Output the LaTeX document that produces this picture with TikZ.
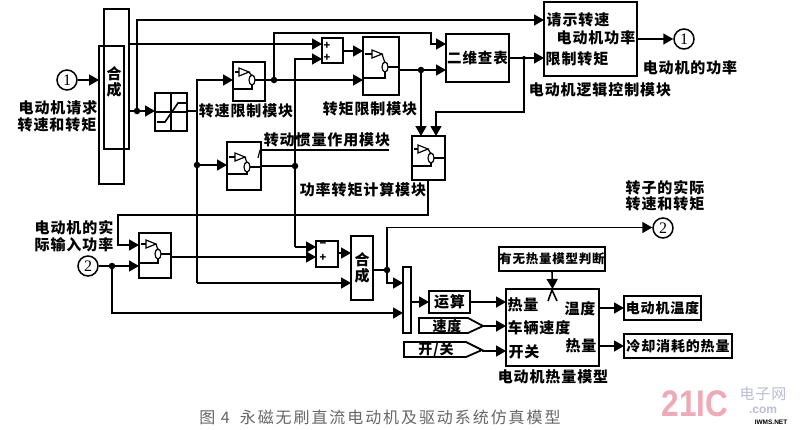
\documentclass[tikz,border=0pt]{standalone}
\usepackage{fontspec}
\setmainfont{Noto Sans CJK SC}[LetterSpace=6]
\newfontfamily\numfont{Liberation Serif}
\newfontfamily\wmfont{Liberation Sans}
\newfontfamily\capfont{Noto Sans CJK SC}[LetterSpace=12]
\usetikzlibrary{arrows.meta}
\definecolor{wmpink}{RGB}{238,170,182}
\definecolor{wmgrey}{RGB}{185,190,215}
\tikzset{
  wire/.style={line width=1.6pt,line join=miter},
  arr/.style={wire,-{Triangle[length=10pt,width=11pt]}},
  box/.style={draw,line width=1.5pt,inner sep=0pt,outer sep=0pt,font=\bfseries\fontsize{15}{17}\selectfont},
  thickbox/.style={box,line width=2.1pt},
  lbl/.style={inner sep=0pt,outer sep=0pt,align=center,font=\bfseries\fontsize{15}{16.5}\selectfont},
  dot/.style={circle,fill=black,inner sep=0pt,minimum size=6.5pt},
  port/.style={circle,draw,line width=1.5pt,inner sep=0pt,minimum size=20pt,font=\numfont\fontsize{16}{16}\selectfont},
  thin glyph/.style={line width=1.2pt},
  plus/.style={inner sep=0pt,font=\bfseries\fontsize{11}{11}\selectfont}
}
\newcommand\bx[7][]{%
  \pgfmathsetmacro\myw{#5-#3}\pgfmathsetmacro\myh{#6-#4}%
  \pgfmathsetmacro\mycx{(#3+#5)/2}\pgfmathsetmacro\mycy{(#4+#6)/2}%
  \node[box,minimum width=\myw pt,minimum height=\myh pt,#1] (#2) at (\mycx,\mycy) {#7};}
% switch glyph: x0 x1 triangle-x triangle-y circle-x circle-y bottom-y
\newcommand\swg[7]{%
  \draw[thin glyph] (#3,#4-4)--(#3,#4+4)--(#3+10,#4)--cycle;
  \draw[thin glyph] (#1+2,#4)--(#3,#4);
  \draw[thin glyph] (#3+10,#4)--(#5,#6-4);
  \draw[thin glyph] (#5,#6) ellipse (3 and 5);
  \draw[wire] (#1,#7)--(#5,#7)--(#5,#6+5);
  \draw[wire] (#5+3,#6)--(#2,#6);}
\begin{document}
\begin{tikzpicture}[x=1pt,y=-1pt]
\useasboundingbox[fill=white] (0,0) rectangle (804,429);
% boxes
\bx{mixA}{104}{9}{129}{149}{}
\bx{mixB}{99}{46}{124}{184}{}
\node[lbl] (mixT) at (114,82) {合\\成};
\node[port] (in1) at (67,80) {1};
\node[port] (in2) at (88,266) {2};
\node[port] (out1) at (684,39) {1};
\node[port] (out2) at (663,228) {2};
\bx{sat}{155}{93}{187}{131}{}
\bx{swa}{233}{62}{265}{101}{}
\bx{swb}{227}{142}{261}{190}{}
\bx{swc}{363}{37}{399}{95}{}
\bx{swd}{412}{136}{445}{180}{}
\bx{swe}{139}{233}{171}{278}{}
\bx{suma}{322}{38}{343}{63}{}
\bx{sumb}{316}{241}{338}{267}{}
\bx{lookup}{446}{34}{509}{82}{\fontsize{14.5}{16}\selectfont 二维查表}
\bx[thickbox]{logic}{544}{2}{637}{76}{}
\bx{mixC}{351}{236}{373}{300}{}
\node[lbl] (mixCt) at (362,268) {合\\成};
\bx{mux}{403}{267}{411}{333}{}
\bx[thickbox]{calc}{429}{291}{470}{313}{运算}
\bx[thickbox]{judge}{499}{247}{605}{271}{\fontsize{12.5}{16}\selectfont 有无热量模型判断}
\bx[thickbox]{heat}{506}{289}{599}{366}{}
\bx[thickbox]{temp}{624}{296}{701}{320}{\fontsize{14}{16}\selectfont 电动机温度}
\bx[thickbox]{cool}{624}{334}{732}{358}{\fontsize{14}{16}\selectfont 冷却消耗的热量}
% saturation glyph
\draw[thin glyph] (sat.north)--(sat.south) (sat.west)--(sat.east);
\draw[wire] (157,122)--(165,122)--(178,103)--(186,103);
% switch glyphs
\swg{233}{265}{239}{72}{252}{80}{89}
\swg{227}{261}{235}{157}{247}{167}{174}
\swg{363}{399}{372}{54}{385}{67}{78}
\swg{412}{445}{418}{149}{431}{158}{166}
\swg{139}{171}{146}{244}{158}{254}{263}
% plus/minus
\node[plus] (pa) at (327,46) {+};
\node[plus] (pb) at (327,58) {+};
\node[plus] (pc) at (323,245) {−};
\node[plus] (pd) at (323,258) {+};
% junctions
\node[dot] (j1) at (137,111) {};
\node[dot] (j2) at (197,165) {};
\node[dot] (j3) at (274,80) {};
\node[dot] (j4) at (295,166) {};
\node[dot] (j5) at (421,70) {};
\node[dot,minimum size=4pt] (j6) at (524,58) {};
\node[dot] (j7) at (112,266) {};
\node[dot] (j8) at (387,270) {};
\coordinate (s1) at (197,111);
% connectors, upper part
\draw[arr] (in1)--(mixB.west |- in1);
\draw[wire] (mixA.east |- j1)--(j1);
\draw[arr] (j1)--(sat.west |- j1);
\draw[arr] (j1)--(137,20)--(logic.west |- 0,20);
\draw[arr] (mixA.east |- 0,44)--(suma.west |- 0,44);
\draw[wire] (sat.east |- s1)--(s1);
\draw[arr] (197,283)--(197,80)--(swa.west |- 0,80);
\draw[arr] (j2)--(swb.west |- j2);
\draw[arr] (197,283)--(mixC.west |- 0,283);
\draw[wire] (swa.east |- j3)--(j3);
\draw[arr] (j3)--(swc.west |- j3);
\draw[arr] (j3)--(274,33)--(431,33)--(431,44)--(lookup.west |- 0,44);
\draw[arr] (295,247)--(295,59)--(suma.west |- 0,59);
\draw[wire] (swb.east |- j4)--(j4);
\draw[arr] (295,247)--(sumb.west |- 0,247);
\draw[arr] (suma.east |- 0,51)--(swc.west |- 0,51);
\draw[arr] (swc.east |- j5)--(lookup.west |- j5);
\draw[arr] (j5)--(j5 |- swd.north);
\draw[arr] (lookup.east |- j6)--(logic.west |- j6);
\draw[arr] (j6)--(524,112)--(436,112)--(436 ,136);
\draw[arr] (logic.east |- out1)--(out1);
% connectors, lower part
\draw[arr] (428,180)--(428,215)--(118,215)--(118,245)--(swe.west |- 0,245);
\draw[wire] (in2)--(j7);
\draw[arr] (j7)--(swe.west |- j7);
\draw[arr] (j7)--(112,313)--(mux.west |- 0,313);
\draw[arr] (swe.east |- 0,257)--(sumb.west |- 0,257);
\draw[arr] (sumb.east |- 0,253)--(mixC.west |- 0,253);
\draw[wire] (mixC.east |- j8)--(j8);
\draw[arr] (j8)--(387,227.5)--(out2.west |- 0,227.5);
\draw[arr] (j8)--(387,283)--(mux.west |- 0,283);
\draw[arr] (mux.east |- calc)--(calc);
\draw[arr] (calc)--(heat.west |- calc);
\draw[arr] (judge.south)--(heat.north);
\draw[wire] (548,301)--(552,290)--(557,301);
\draw[arr] (heat.east |- temp)--(temp);
\draw[arr] (heat.east |- cool)--(cool);
% tagged inputs
\draw[line width=1.8pt] (419,318)--(468,318)--(483,326)--(468,333)--(419,333)--cycle;
\coordinate (tipA) at (483,326);
\draw[arr] (tipA)--(heat.west |- tipA);
\node[lbl,font=\bfseries\fontsize{14}{15}\selectfont] (speedT) at (447,326) {速度};
\draw[line width=1.8pt] (404,342)--(466,342)--(482,350)--(466,357)--(404,357)--cycle;
\coordinate (tipB) at (482,351);
\draw[arr] (tipB)--(heat.west |- tipB);
\node[lbl,font=\bfseries\fontsize{14}{15}\selectfont] (onoffT) at (436,350) {开/关};
% underlined label
\coordinate (ulA) at (260,150);
\coordinate (ulB) at (389,150);
\draw[wire] (ulA)--(ulB);
\draw[thin glyph] (258,158)--(ulA);
% labels
\node[lbl] (t1) at (58,108) {电动机请求};
\node[lbl] (t2) at (57,125) {转速和转矩};
\node[lbl] (t3) at (246,111) {转速限制模块};
\node[lbl] (t4) at (370,109) {转矩限制模块};
\node[lbl] (t5) at (327,140) {转动惯量作用模块};
\node[lbl] (t6) at (363,190) {功率转矩计算模块};
\node[lbl] (t7) at (74,228) {电动机的实};
\node[lbl] (t8) at (74,245) {际输入功率};
\node[lbl] (t9) at (665,188) {转子的实际};
\node[lbl] (t10) at (665,204) {转速和转矩};
\node[lbl] (t11) at (578,20) {请示转速};
\node[lbl] (t12) at (596,38) {电动机功率};
\node[lbl] (t13) at (577,59) {限制转矩};
\node[lbl] (t14) at (690,68) {电动机的功率};
\node[lbl] (t15) at (600,90) {电动机逻辑控制模块};
\node[lbl] (t16) at (523,305) {热量};
\node[lbl] (t17) at (580,309) {温度};
\node[lbl] (t18) at (539,328) {车辆速度};
\node[lbl] (t19) at (524,352) {开关};
\node[lbl] (t20) at (581,346) {热量};
\node[lbl] (t21) at (553,377) {电动机热量模型};
% caption
\node[inner sep=0pt,text=black!60,font=\capfont\fontsize{16}{18}\selectfont] (cap) at (380,417) {图 4\hspace{10pt}永磁无刷直流电动机及驱动系统仿真模型};
% watermark
\node[inner sep=0pt,xscale=.85,text=wmpink,font=\wmfont\bfseries\fontsize{37}{37}\selectfont] (wmA) at (695,404) {21IC};
\node[inner sep=0pt,text=wmgrey,font=\fontsize{15}{15}\selectfont] (wmB) at (763,394) {电子网};
\node[inner sep=0pt,text=wmgrey,font=\wmfont\bfseries\fontsize{12}{12}\selectfont] (wmC) at (763,410) {.com};
\node[inner sep=0pt,fill=white,font=\wmfont\bfseries\fontsize{6.5}{7}\selectfont] (wmD) at (771,422) {IWMS.NET};
\end{tikzpicture}
\end{document}
